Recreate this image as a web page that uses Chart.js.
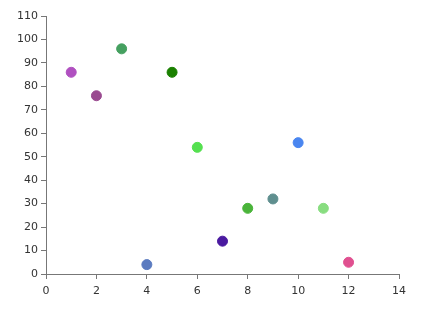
<!DOCTYPE html>
<html>
<head>
<meta charset="utf-8">
<script src="https://cdn.jsdelivr.net/npm/chart.js@4"></script>
<style>
  html, body { margin: 0; padding: 0; background: #fff; }
  #wrap { width: 428px; height: 320px; }
</style>
</head>
<body>
<div id="wrap"><canvas id="chart" width="428" height="320"></canvas></div>
<script>
const xValues = [1, 2, 3, 4, 5, 6, 7, 8, 9, 10, 11, 12];
const yValues = [86, 76, 96, 4, 86, 54, 14, 28, 32, 56, 28, 5];
const pointColors = [
  "#b050c0", "#9a4a90", "#45a060", "#5b7bc0", "#1a8000", "#55e050",
  "#4a1aa0", "#4ab43a", "#5f8f8f", "#4a86f0", "#88dd80", "#e05090"
];

const points = xValues.map((x, i) => ({ x: x, y: yValues[i] }));
const axisColor = "#777";

new Chart(document.getElementById("chart").getContext("2d"), {
  type: "scatter",
  data: {
    datasets: [{
      data: points,
      pointBackgroundColor: pointColors,
      pointBorderColor: pointColors,
      pointRadius: 5,
      pointHoverRadius: 5,
    }]
  },
  options: {
    responsive: false,
    animation: false,
    layout: { padding: { top: 16, right: 29, left: 0, bottom: 0 } },
    plugins: { legend: { display: false }, tooltip: { enabled: false } },
    scales: {
      x: {
        type: "linear",
        min: 0, max: 14,
        ticks: { stepSize: 2, color: "#333", font: { family: "DejaVu Sans", size: 11 }, padding: 6 },
        grid: { drawOnChartArea: false, tickLength: 5, color: axisColor },
        border: { color: axisColor },
        afterFit: s => { s.height = 46; }
      },
      y: {
        min: 0, max: 110,
        ticks: { stepSize: 10, color: "#333", font: { family: "DejaVu Sans", size: 11 }, padding: 3 },
        grid: { drawOnChartArea: false, tickLength: 5, color: axisColor },
        border: { color: axisColor },
        afterFit: s => { s.width = 46; }
      }
    }
  }
});
</script>
</body>
</html>
